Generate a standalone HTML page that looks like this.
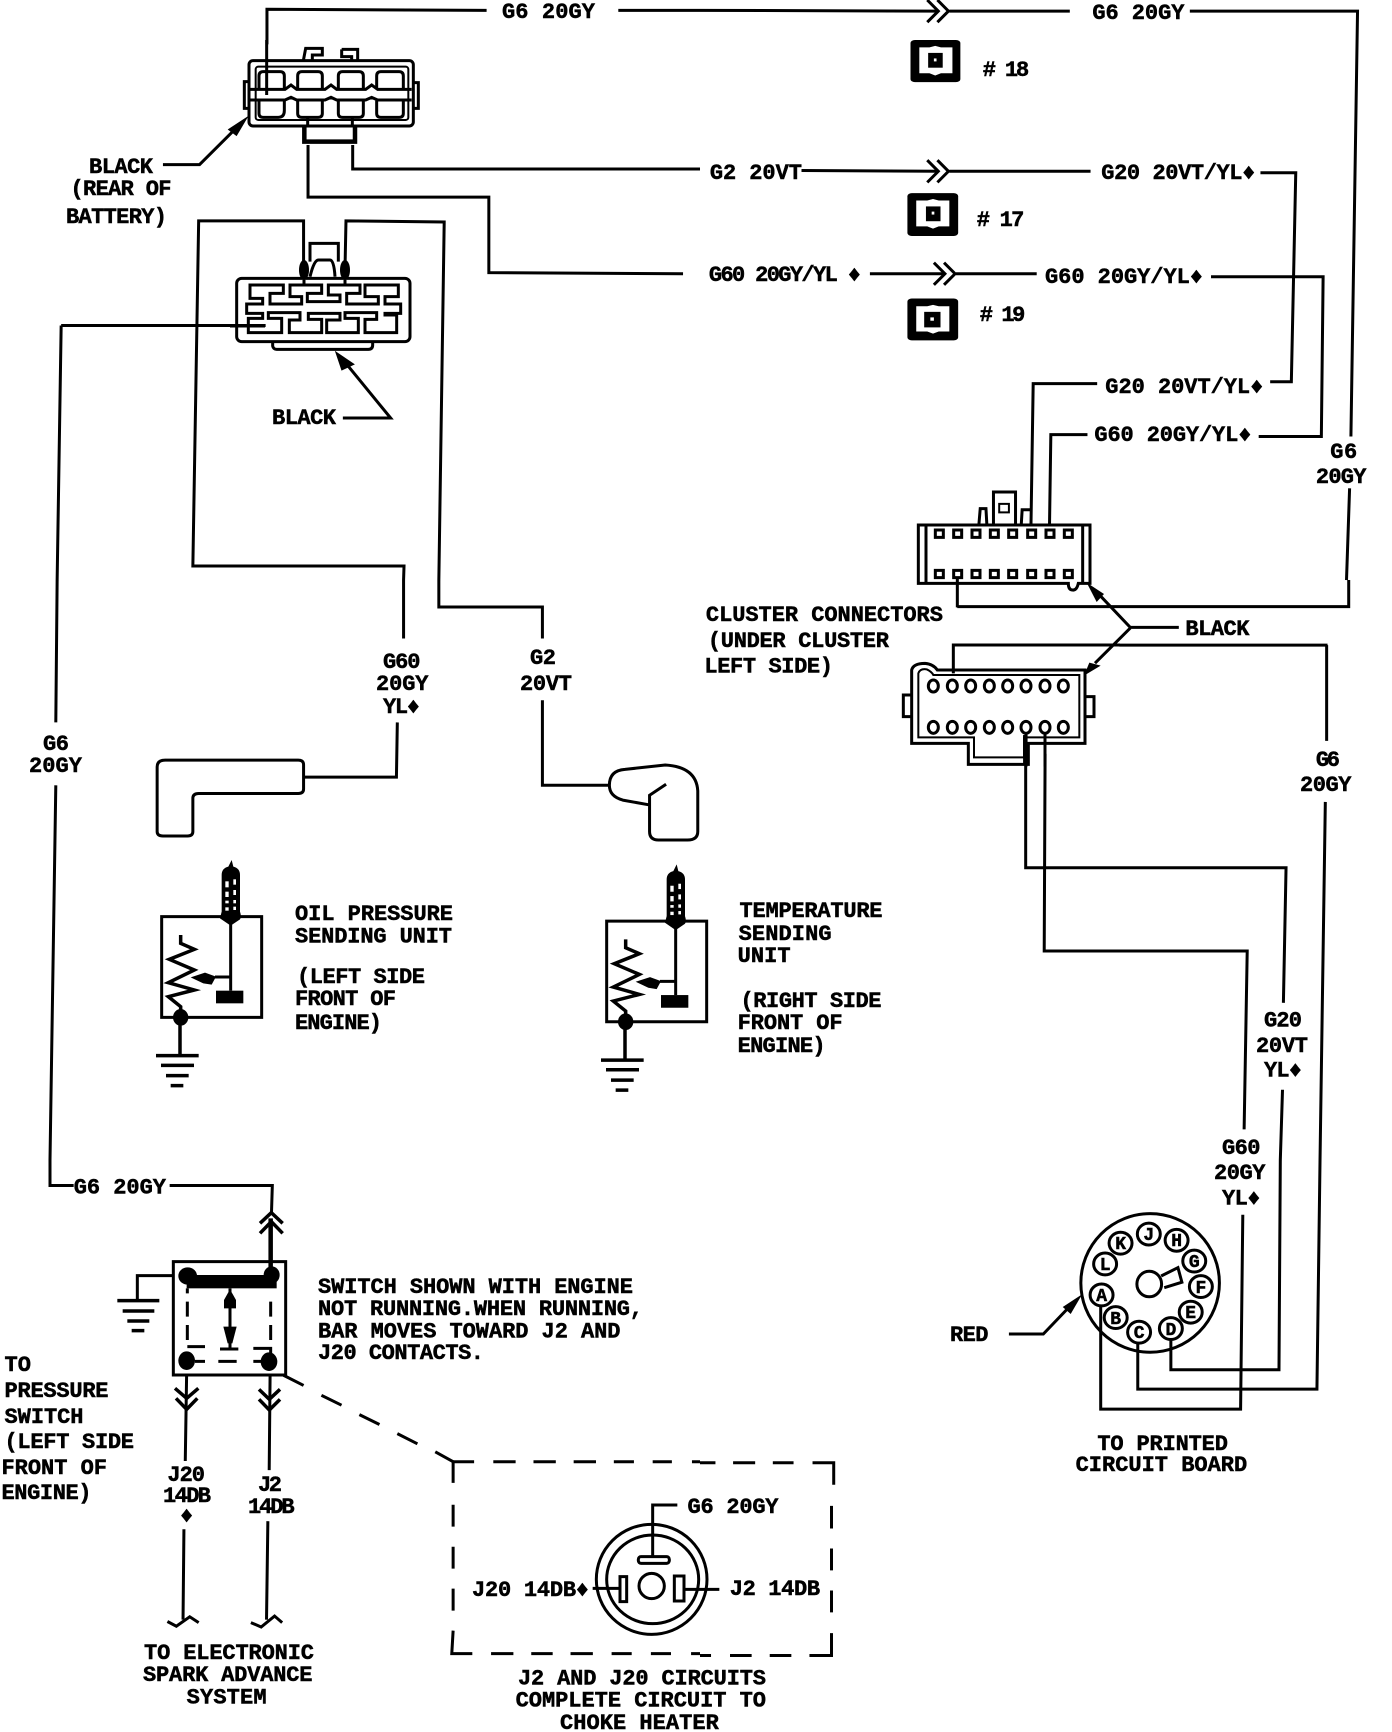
<!DOCTYPE html>
<html><head><meta charset="utf-8"><style>
html,body{margin:0;padding:0;background:#fff}
svg{display:block}
path,rect,ellipse,line,polygon{vector-effect:non-scaling-stroke}
.w{fill:none;stroke:#000;stroke-width:3}
.t{fill:none;stroke:#000;stroke-width:2}
.h{fill:none;stroke:#000;stroke-width:4.5}
.f{fill:#000;stroke:none}
.n{fill:#fff;stroke:none}
text{font-family:"Liberation Mono","DejaVu Sans Mono",monospace;font-weight:bold;font-size:22px;fill:#000;stroke:#000;stroke-width:.5}
.p{font-size:18px;text-anchor:middle}
</style></head><body>
<svg xmlns="http://www.w3.org/2000/svg" width="1392" height="1732" viewBox="0 0 1392 1732">
<rect width="1392" height="1732" fill="#fff"/>

<g transform="scale(.44643,.36993)">
<path class="w" d="M598 120V25L1090 28M1385 28L1568 28"/>
<path class="w" d="M690 392V533H1095V737L1530 740M790 392V457H1568"/>
<path class="w" d="M365 445H447L540 333"/>
<polygon class="f" points="557,313 510,350 530,368"/>
<path class="w" d="M680 715V597H445L432 1530H905L904 1568M773 715L775 597L995 600L983 1568"/>
<path class="w" d="M137 880H595M137 880L128 1568"/>
<path class="w" d="M768 1130H875L770 975"/>
<polygon class="f" points="750,948 765,1002 795,985"/>
</g>

<!-- connector 1 -->
<g transform="translate(235,40) scale(.33333)">
<path class="w" d="M95 0V165"/>
<rect class="w" x="42" y="62" width="493" height="196" rx="12"/>
<rect class="t" x="62" y="80" width="458" height="160" rx="8"/>
<path class="w" d="M205 62L212 25H262V45H232V62M320 28H368V62M320 28V50H350V62"/>
<path class="w" d="M42 125H28V205H42M535 128H550V205H535"/>
<path class="w" d="M40 148H150L168 135L185 148H270L288 135L305 148H392L410 135L428 148H530M40 180H150L168 172L185 180H270L288 172L305 180H392L410 172L428 180H530"/>
<path class="w" d="M72 148V108Q72 95 85 95H135Q148 95 148 108V148M188 148V108Q188 95 201 95H249Q262 95 262 108V148M310 148V108Q310 95 323 95H372Q385 95 385 108V148M425 148V108Q425 95 438 95H492Q505 95 505 108V148"/>
<path class="w" d="M72 180V220Q72 232 85 232H130Q148 232 148 212V182M188 182V220Q188 232 201 232H249Q262 232 262 220V182M310 182V220Q310 232 323 232H372Q385 232 385 220V182M425 182V220Q425 232 438 232H492Q505 232 505 220V182"/>
<path class="h" d="M208 258V305H360V258"/>
<path class="w" d="M218 232V258M352 232V258"/>
</g>

<!-- connector 2 -->
<g transform="translate(230,230) scale(.33333)">
<rect class="w" x="20" y="145" width="520" height="190" rx="15"/>
<path class="w" d="M128 335V348Q130 358 140 358H415Q428 358 428 345V335"/>
<ellipse class="f" cx="222" cy="120" rx="15" ry="30"/><ellipse class="f" cx="345" cy="120" rx="15" ry="30"/>
<path class="w" d="M240 95V40H325V95M240 140Q252 90 265 90H300Q312 90 315 140"/>
<path class="w" d="M222 150V165M345 150V165"/>
<path class="w" d="M60 165H160V190H120V222H215V200H180V165H275V190H232V215H330V195H295V165H390V190H350V222H445V200H405V165H505V200H465V222H512V250H465V255H500V308H405V268H440V248H345V265H385V308H290V270H330V250H235V268H275V308H178V270H210V248H115V265H155V308H55V265H98V250H50V222H98V205H60Z"/>
<path class="w" d="M0 288H105"/>
</g>

<g transform="translate(700,0) scale(.4413,.36993)">
<path class="w" d="M0 28L540 30M565 30H838M1110 30H1490L1475 1180M1472 1320L1465 1568"/>
<path class="w" d="M515 0L540 30L515 60M538 0L563 30L538 60"/>
<path class="w" d="M230 461L540 463M565 463H885"/>
<path class="w" d="M515 433L540 463L515 493M538 433L563 463L538 493"/>
<path class="w" d="M1270 467H1350L1340 1032H1292M1158 748H1412L1408 1180H1266M900 1037H755L750 1420M878 1175H795L792 1420"/>
<path class="w" d="M385 740H555M580 740H763"/>
<path class="w" d="M530 710L555 740L530 770M553 710L578 740L553 770"/>
<rect class="f" x="477" y="108" width="113" height="114" rx="10" ry="8"/>
<path class="n" d="M497 128H520L533 124L546 128H572V198H546L533 204L520 198H497Z"/>
<rect class="f" x="517" y="143" width="33" height="40"/><rect class="n" x="530" y="158" width="6" height="8"/>
<rect class="f" x="470" y="522" width="115" height="116" rx="10" ry="8"/>
<path class="n" d="M490 542H515L528 538L541 542H565V612H541L528 618L515 612H490Z"/>
<rect class="f" x="512" y="558" width="33" height="40"/><rect class="n" x="525" y="572" width="6" height="8"/>
<rect class="f" x="470" y="807" width="115" height="113" rx="10" ry="8"/>
<path class="n" d="M490 828H515L528 824L541 828H565V896H541L528 902L515 896H490Z"/>
<rect class="f" x="508" y="843" width="37" height="42"/><rect class="n" x="522" y="858" width="8" height="9"/>
<path class="w" d="M632 1418L635 1375H648L650 1418M665 1418V1330H715V1418M728 1418L730 1378H750"/>
<path class="t" d="M678 1362H700V1385H678Z"/>
</g>

<!-- cluster connectors -->
<g transform="translate(900,500) scale(.33333)">
<path class="w" d="M55 250V75H570V250H535Q530 272 518 270Q505 270 505 250ZM78 75V250M548 75V250"/>
<rect class="w" x="106" y="90" width="24" height="22"/><rect class="w" x="161" y="90" width="24" height="22"/><rect class="w" x="216" y="90" width="24" height="22"/><rect class="w" x="271" y="90" width="24" height="22"/><rect class="w" x="326" y="90" width="24" height="22"/><rect class="w" x="383" y="90" width="24" height="22"/><rect class="w" x="438" y="90" width="24" height="22"/><rect class="w" x="493" y="90" width="24" height="22"/>
<rect class="w" x="106" y="211" width="24" height="22"/><rect class="w" x="161" y="211" width="24" height="22"/><rect class="w" x="216" y="211" width="24" height="22"/><rect class="w" x="271" y="211" width="24" height="22"/><rect class="w" x="326" y="211" width="24" height="22"/><rect class="w" x="383" y="211" width="24" height="22"/><rect class="w" x="438" y="211" width="24" height="22"/><rect class="w" x="493" y="211" width="24" height="22"/>
<polygon class="f" points="560,248 612,282 590,306"/>
<polygon class="f" points="552,527 568,488 602,497"/>
<path class="w" d="M172 232V322M160 520V435H660"/>
<path class="w" d="M35 730V510Q40 490 75 490Q100 492 112 510H555V730H385V793H205V730Z"/>
<path class="t" d="M55 712V520Q60 505 80 508Q95 515 100 525H538V712H372V772H222V712Z"/>
<path class="w" d="M35 585H10V650H35M555 590H582V650H555"/>
<ellipse class="w" cx="100" cy="558" rx="15" ry="18"/><ellipse class="w" cx="157" cy="558" rx="15" ry="18"/><ellipse class="w" cx="212" cy="558" rx="15" ry="18"/><ellipse class="w" cx="268" cy="558" rx="15" ry="18"/><ellipse class="w" cx="323" cy="558" rx="15" ry="18"/><ellipse class="w" cx="378" cy="558" rx="15" ry="18"/><ellipse class="w" cx="435" cy="558" rx="15" ry="18"/><ellipse class="w" cx="490" cy="558" rx="15" ry="18"/>
<ellipse class="w" cx="100" cy="682" rx="15" ry="18"/><ellipse class="w" cx="157" cy="682" rx="15" ry="18"/><ellipse class="w" cx="212" cy="682" rx="15" ry="18"/><ellipse class="w" cx="268" cy="682" rx="15" ry="18"/><ellipse class="w" cx="323" cy="682" rx="15" ry="18"/><ellipse class="w" cx="378" cy="682" rx="15" ry="18"/><ellipse class="w" cx="435" cy="682" rx="15" ry="18"/><ellipse class="w" cx="490" cy="682" rx="15" ry="18"/>
<path class="w" d="M378 700V800M435 700V800"/>
<path class="h" d="M376 705V790"/>
</g>

<g transform="translate(0,580) scale(.44643,.36993)">
<path class="w" d="M128 0L125 385M125 555L112 1568"/>
<path class="w" d="M904 0V158M983 0V73H1215V158M1215 325V555H1365M890 385L888 533H680"/>
<path class="w" d="M370 487H668Q680 487 680 499V565Q680 577 668 577H445Q432 577 432 590V680Q432 692 420 692H365Q352 692 352 680V505Q352 487 370 487Z"/>
<path class="w" d="M1492 552L1455 582V680Q1455 703 1475 703H1540Q1563 703 1563 680V570Q1560 505 1490 500L1400 512Q1365 515 1365 555Q1365 585 1395 595L1455 608"/>
</g>

<!-- sensors -->
<g transform="translate(150,860) scale(.33333)">
<g id="sensor">
<rect class="w" x="35" y="170" width="300" height="302"/>
<path class="f" d="M245 0L250 20Q270 25 270 45V155Q275 170 270 178L242 197L210 175L215 155V45Q215 25 235 20Z"/>
<rect class="n" x="226" y="64" width="10" height="18"/><rect class="n" x="250" y="58" width="8" height="16"/><rect class="n" x="226" y="95" width="10" height="16"/><rect class="n" x="250" y="90" width="8" height="15"/><rect class="n" x="226" y="122" width="10" height="8"/><rect class="n" x="250" y="120" width="8" height="10"/><rect class="n" x="226" y="142" width="10" height="10"/><rect class="n" x="250" y="140" width="8" height="10"/>
<path class="w" style="stroke-width:3.5" d="M92 225V250L133 268L58 298L133 330L55 368L133 390L55 410L92 440V470M90 470V585"/>
<path class="w" d="M242 190V392M240 351H195"/>
<polygon class="f" points="122,352 165,338 198,350 185,374 160,370"/>
<rect class="f" x="198" y="392" width="82" height="38"/>
<ellipse class="f" cx="92" cy="472" rx="23" ry="25"/>
<path class="w" style="stroke-width:3.5" d="M18 587H146M33 616H132M48 647H116M62 677H100"/>
</g>
</g>
<use href="#sensor" transform="translate(595,864.4) scale(.33333)"/>

<g transform="translate(0,1160) scale(.44643,.36483)">
<path class="w" d="M112 0V70H165M380 70H610L608 150"/>
<path class="w" d="M418 590L415 825M605 590L603 850"/>
<path class="w" d="M412 1012L410 1260M375 1265L395 1278L425 1252L445 1268M600 990L597 1260M562 1268L585 1280L615 1250L632 1268"/>
<path class="w" d="M680 618L635 590M720 645L765 672M805 698L850 725M890 750L935 778M975 800L1015 827"/>
<path class="w" d="M1015 885V827H1062M1105 827H1155M1195 827H1245M1285 827H1335M1375 827H1420M1462 827H1505M1550 827H1568M1015 945V1005M1015 1060V1120M1015 1175V1235M1015 1290L1012 1353H1058M1100 1353H1150M1190 1353H1238M1278 1353H1328M1370 1353H1415M1458 1353H1503M1548 1353H1568"/>
</g>

<!-- switch -->
<g transform="translate(110,1210) scale(.33333)">
<rect class="w" x="190" y="155" width="337" height="340"/>
<path class="h" d="M482 25V190"/>
<path class="w" style="stroke-width:3.5" d="M450 40L484 8L518 40M450 70L484 35L518 70"/>
<path class="w" d="M190 197H82V270"/>
<path class="w" style="stroke-width:3.5" d="M22 272H148M38 303H133M52 333H118M65 362H103"/>
<rect class="f" x="230" y="195" width="270" height="40"/>
<ellipse class="f" cx="233" cy="198" rx="28" ry="26"/><ellipse class="f" cx="485" cy="195" rx="24" ry="26"/>
<path class="w" d="M360 235V415M330 417H385M232 235V250M232 275V320M232 345V390M482 275V320M482 345V390M232 410H285M430 415H482V440M255 454H285M325 454H380M430 454H455"/>
<polygon class="f" points="360,238 378,270 378,295 342,295 342,270"/>
<polygon class="f" points="340,350 380,350 367,400 353,400"/>
<ellipse class="f" cx="230" cy="452" rx="25" ry="28"/><ellipse class="f" cx="477" cy="455" rx="25" ry="28"/>
<path class="w" style="stroke-width:3.5" d="M195 535L230 565L265 535M198 565L230 598L262 565M447 538L478 568L510 538M447 568L478 600L510 568"/>
</g>

<!-- circular connector -->
<g transform="translate(580,1500) scale(.33333)">
<ellipse class="w" cx="215" cy="238" rx="166" ry="165"/>
<ellipse class="w" cx="218" cy="238" rx="138" ry="133"/>
<ellipse class="w" cx="215" cy="258" rx="38" ry="38"/>
<rect class="w" x="175" y="170" width="93" height="20" rx="8"/>
<path class="w" d="M218 170V15H292M38 265H120M312 268H418"/>
<rect class="w" x="120" y="230" width="20" height="75"/>
<rect class="w" x="283" y="228" width="29" height="75"/>
</g>

<g transform="translate(700,580) scale(.4413,.36993)">
<path class="w" d="M583 72H1470V0"/>
<path class="w" d="M1085 128H975L905 40M975 130L895 225"/>
<path class="w" d="M1420 176V435M1417 600L1405 1568M950 176H1422"/>
<path class="w" d="M738 470V778H1328L1322 1143M782 470L780 1003H1240L1233 1485M1320 1378L1315 1568"/>
</g>

<g transform="translate(700,1160) scale(.4413,.36483)">
<path class="w" d="M0 830H35M75 830H125M165 830H212M255 830H303V890M298 948V1010M298 1065V1125M298 1180V1240M298 1297V1358H248M207 1358H158M117 1358H68M25 1358H0"/>
<path class="w" d="M1315 0L1312 575H1067V495M1405 0L1398 628H992V500M1230 150L1225 683H908V400"/>
<ellipse class="w" cx="1020" cy="337" rx="157" ry="190"/>
<ellipse class="w" cx="1017" cy="203" rx="26" ry="30"/>
<ellipse class="w" cx="1080" cy="220" rx="26" ry="30"/>
<ellipse class="w" cx="1120" cy="277" rx="26" ry="30"/>
<ellipse class="w" cx="1135" cy="347" rx="26" ry="30"/>
<ellipse class="w" cx="1112" cy="417" rx="26" ry="30"/>
<ellipse class="w" cx="1067" cy="462" rx="26" ry="30"/>
<ellipse class="w" cx="995" cy="472" rx="26" ry="30"/>
<ellipse class="w" cx="942" cy="432" rx="26" ry="30"/>
<ellipse class="w" cx="910" cy="370" rx="26" ry="30"/>
<ellipse class="w" cx="918" cy="285" rx="26" ry="30"/>
<ellipse class="w" cx="953" cy="228" rx="26" ry="30"/>
<ellipse class="w" cx="1018" cy="340" rx="28" ry="35"/>
<path class="w" d="M1045 318L1083 295L1092 335L1052 350"/>
<path class="w" d="M700 477H778L835 405"/>
<polygon class="f" points="866,368 822,403 840,422"/>
</g>

<text x="502" y="18" textLength="93">G6 20GY</text>
<text x="89" y="173" textLength="64">BLACK</text>
<text x="70.5" y="195" textLength="101">(REAR OF</text>
<text x="66" y="223" textLength="101">BATTERY)</text>
<text x="272" y="424" textLength="64">BLACK</text>
<text x="1092.4" y="19" textLength="92">G6 20GY</text>
<text x="982.7" y="76" textLength="46.5">#  18</text>
<text x="709.9" y="179" textLength="92">G2 20VT</text>
<text x="1101.3" y="179" textLength="154">G20 20VT/YL♦</text>
<text x="976.8" y="226" textLength="47.5">#  17</text>
<text x="708.9" y="281" textLength="152">G60 20GY/YL ♦</text>
<text x="1045" y="283" textLength="158">G60 20GY/YL♦</text>
<text x="979.8" y="321" textLength="45.5">#  19</text>
<text x="1105.3" y="393" textLength="158">G20 20VT/YL♦</text>
<text x="1094.4" y="441" textLength="157">G60 20GY/YL♦</text>
<text x="1330.2" y="458" textLength="27">G6</text>
<text x="1315.9" y="483" textLength="50.5">20GY</text>
<text x="383" y="668" textLength="37.5">G60</text>
<text x="376" y="690" textLength="52.5">20GY</text>
<text x="383" y="713" textLength="37">YL♦</text>
<text x="530" y="664" textLength="26">G2</text>
<text x="520" y="690" textLength="52">20VT</text>
<text x="43" y="750" textLength="26">G6</text>
<text x="29" y="772" textLength="53">20GY</text>
<text x="295" y="920" textLength="158">OIL PRESSURE</text>
<text x="295" y="942.5" textLength="157">SENDING UNIT</text>
<text x="297" y="983" textLength="128">(LEFT SIDE</text>
<text x="295" y="1005" textLength="101">FRONT OF</text>
<text x="295" y="1029" textLength="87">ENGINE)</text>
<text x="705.9" y="621" textLength="237">CLUSTER CONNECTORS</text>
<text x="707.9" y="647" textLength="181">(UNDER CLUSTER</text>
<text x="704.4" y="672.5" textLength="128.5">LEFT SIDE)</text>
<text x="1185.4" y="635" textLength="64">BLACK</text>
<text x="1315.9" y="766" textLength="24">G6</text>
<text x="1300" y="791" textLength="51.5">20GY</text>
<text x="739.5" y="917" textLength="143">TEMPERATURE</text>
<text x="738.6" y="940" textLength="93">SENDING</text>
<text x="737.6" y="962" textLength="53">UNIT</text>
<text x="740.5" y="1007" textLength="141">(RIGHT SIDE</text>
<text x="737.6" y="1029" textLength="105">FRONT OF</text>
<text x="737.6" y="1052" textLength="88">ENGINE)</text>
<text x="1264" y="1026.5" textLength="38">G20</text>
<text x="1256" y="1052" textLength="52">20VT</text>
<text x="1264" y="1076.5" textLength="38">YL♦</text>
<text x="1222" y="1154" textLength="38.5">G60</text>
<text x="1214" y="1179" textLength="51.5">20GY</text>
<text x="1222" y="1204.5" textLength="38.5">YL♦</text>
<text x="950" y="1341" textLength="38.5">RED</text>
<text x="1097.4" y="1450" textLength="130.5">TO PRINTED</text>
<text x="1075.6" y="1471" textLength="171.6">CIRCUIT BOARD</text>
<text x="729.7" y="1595" textLength="90.4">J2 14DB</text>
<text x="73.7" y="1193.5" textLength="92.3">G6 20GY</text>
<text x="318" y="1293" textLength="315">SWITCH SHOWN WITH ENGINE</text>
<text x="318" y="1315" textLength="325">NOT RUNNING.WHEN RUNNING,</text>
<text x="318" y="1337.7" textLength="302.5">BAR MOVES TOWARD J2 AND</text>
<text x="318" y="1359" textLength="166">J20 CONTACTS.</text>
<text x="4.5" y="1371" textLength="26.5">TO</text>
<text x="4.5" y="1397" textLength="104">PRESSURE</text>
<text x="4.5" y="1423" textLength="79">SWITCH</text>
<text x="4.5" y="1448" textLength="129.5">(LEFT SIDE</text>
<text x="1.5" y="1474" textLength="105.5">FRONT OF</text>
<text x="1.5" y="1499" textLength="90">ENGINE)</text>
<text x="167.4" y="1481" textLength="37.6">J20</text>
<text x="163" y="1502" textLength="48">14DB</text>
<text x="180" y="1522" textLength="13">♦</text>
<text x="258" y="1491" textLength="24">J2</text>
<text x="248" y="1513" textLength="46.6">14DB</text>
<text x="144" y="1659" textLength="170">TO ELECTRONIC</text>
<text x="143" y="1681" textLength="169.5">SPARK ADVANCE</text>
<text x="186.6" y="1703.6" textLength="80">SYSTEM</text>
<text x="518" y="1684.6" textLength="248">J2 AND J20 CIRCUITS</text>
<text x="515.6" y="1706.5" textLength="250.4">COMPLETE CIRCUIT TO</text>
<text x="560" y="1729" textLength="158.8">CHOKE HEATER</text>
<text x="687.5" y="1513" textLength="91">G6 20GY</text>
<text x="472" y="1596" textLength="117">J20 14DB♦</text>
<text class="p" x="1148.8" y="1240">J</text>
<text class="p" x="1176.6" y="1246">H</text>
<text class="p" x="1194.3" y="1267">G</text>
<text class="p" x="1200.9" y="1293">F</text>
<text class="p" x="1190.7" y="1318">E</text>
<text class="p" x="1170.9" y="1335">D</text>
<text class="p" x="1139.1" y="1338">C</text>
<text class="p" x="1115.7" y="1324">B</text>
<text class="p" x="1101.6" y="1301">A</text>
<text class="p" x="1105.1" y="1270">L</text>
<text class="p" x="1120.6" y="1249">K</text>
</svg>
</body></html>
